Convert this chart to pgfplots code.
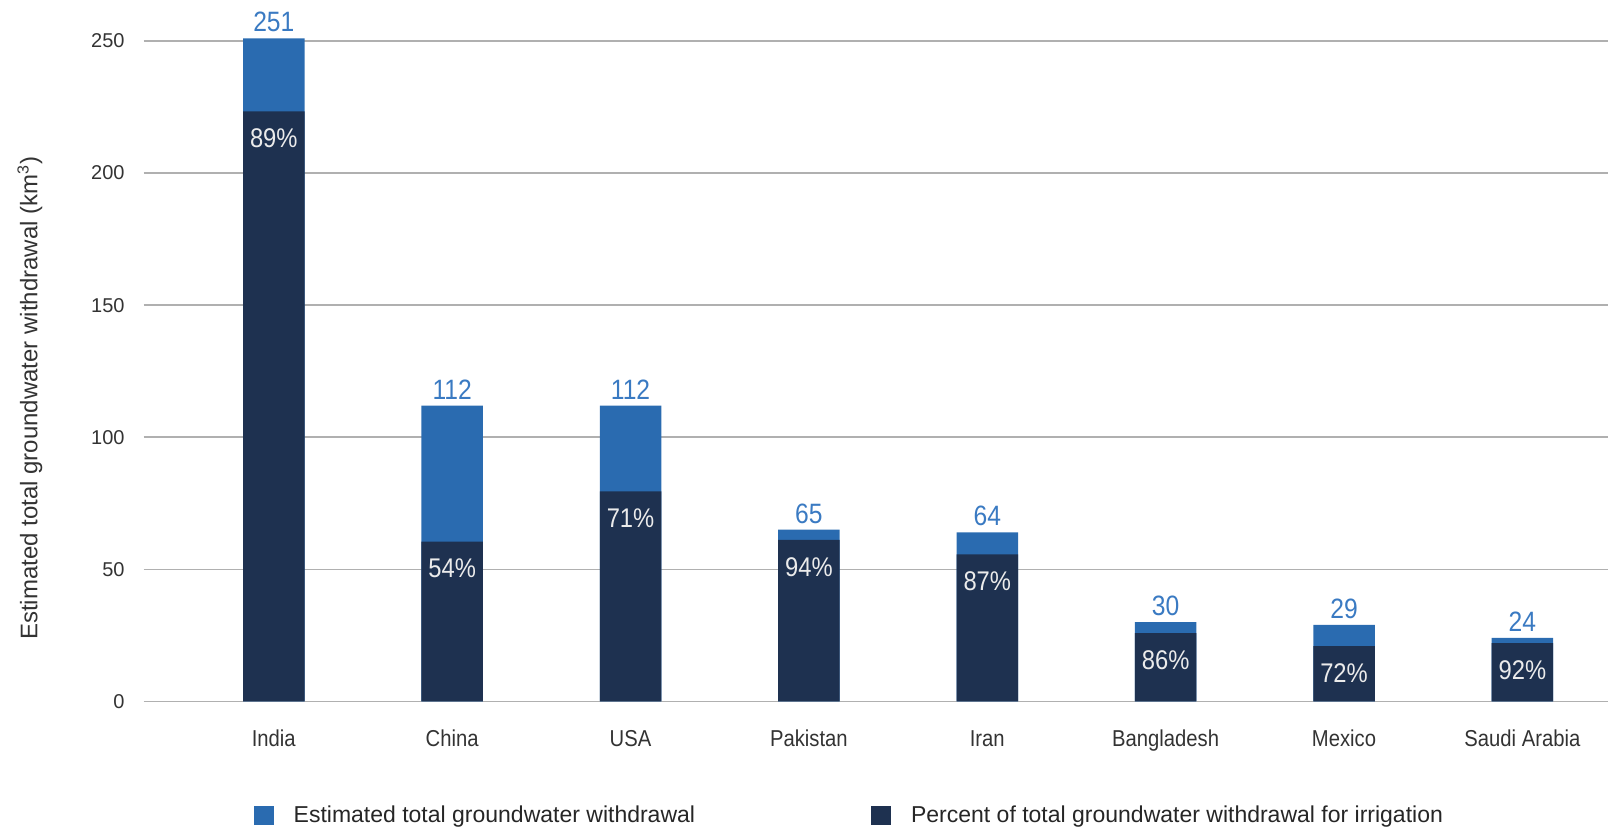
\documentclass[border=0pt]{standalone}
\usepackage{pgfplots}
\pgfplotsset{compat=1.18}
\usepackage{pgfplotstable}
\usepackage{fontspec}
\setmainfont{Liberation Sans}
\newfontfamily\cond[FakeStretch=0.88]{Liberation Sans}
\definecolor{lightb}{HTML}{2A6BB0}
\definecolor{darkb}{HTML}{1E3150}
\definecolor{lbltxt}{HTML}{3A7AC2}
\definecolor{tickc}{HTML}{333333}
\definecolor{gridc}{HTML}{B0B0B0}
\pgfplotstableread{
x total dark pct
0 251 223.39 89
1 112 60.48 54
2 112 79.52 71
3 65 61.10 94
4 64 55.68 87
5 30 25.80 86
6 29 20.88 72
7 24 22.08 92
}\datatable
\begin{document}
\begin{tikzpicture}
\useasboundingbox (-71.8pt,-63.3pt) rectangle (732.2pt,350.7pt);
\begin{axis}[
  at={(0,0)}, anchor=south west,
  scale only axis, width=732.2pt, height=330.2pt,
  ybar, bar width=0.345,
  xmin=-0.73, xmax=7.48, ymin=0, ymax=250,
  clip=false,
  axis line style={draw=none},
  major tick length=0pt,
  xtick=data,
  xticklabels={India,China,USA,Pakistan,Iran,Bangladesh,Mexico,Saudi Arabia},
  ytick={0,50,100,150,200,250},
  ymajorgrids, grid style={gridc, line width=0.8pt},
  /pgf/number format/assume math mode=true,
  yticklabel style={font=\fontsize{10}{12}\selectfont, text=tickc, anchor=east, inner sep=0pt, xshift=-9.3pt},
  xticklabel style={font=\cond\fontsize{11.5}{13}\selectfont, text=tickc, anchor=base, inner sep=0pt, yshift=-22.6pt},
  ylabel={Estimated total groundwater withdrawal (km\textsuperscript{3})},
  ylabel style={at={(rel axis cs:0,0.459)}, anchor=center, yshift=56.8pt, font=\fontsize{12}{14}\selectfont, text=tickc},
  legend columns=2,
  legend style={at={(rel axis cs:0.0749,-0.1726)}, anchor=west, draw=none, fill=none,
    font=\fontsize{11.5}{13}\selectfont, text=black!85, inner sep=0pt,
    nodes={inner sep=0pt},
    /tikz/every odd column/.append style={column sep=10pt},
    /tikz/every even column/.append style={column sep=88pt}},
  legend image code/.code={\fill[#1] (0pt,-4.85pt) rectangle (10pt,4.85pt);},
]
\addplot[fill=lightb, draw=none, bar shift=0pt, point meta=explicit,
  nodes near coords={\pgfmathprintnumber{\pgfplotspointmeta}},
  every node near coord/.append style={anchor=south, inner sep=0pt, yshift=3pt, text=lbltxt, font=\cond\fontsize{14}{16}\selectfont}]
  table[x=x, y=total, meta=total] {\datatable};
\addplot[fill=darkb, draw=none, bar shift=0pt, point meta=explicit,
  nodes near coords={\pgfmathprintnumber{\pgfplotspointmeta}\%},
  every node near coord/.append style={anchor=center, inner sep=0pt, yshift=-13.5pt, text=white!92!black, font=\cond\fontsize{13.5}{15}\selectfont}]
  table[x=x, y=dark, meta=pct] {\datatable};
\legend{Estimated total groundwater withdrawal, Percent of total groundwater withdrawal for irrigation}
\end{axis}
\end{tikzpicture}
\end{document}
